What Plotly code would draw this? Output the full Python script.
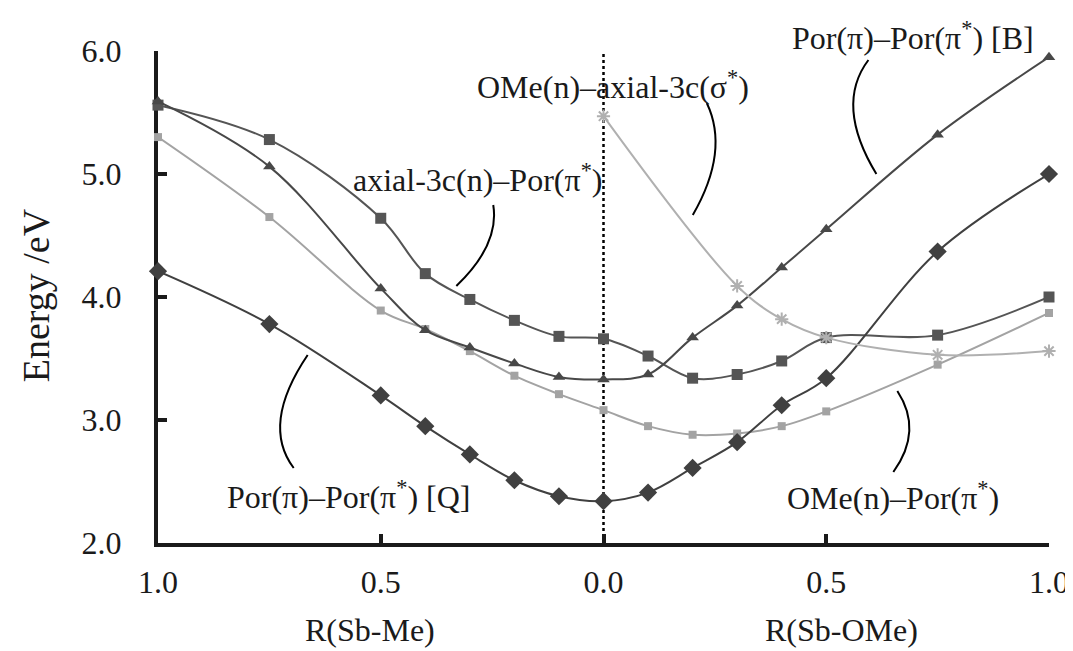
import plotly.graph_objects as go

# ---------------- data ----------------
x_pos = [-1.0, -0.75, -0.5, -0.4, -0.3, -0.2, -0.1, 0.0, 0.1, 0.2, 0.3, 0.4, 0.5, 0.75, 1.0]
q_band = [4.21, 3.78, 3.20, 2.95, 2.72, 2.51, 2.38, 2.34, 2.41, 2.61, 2.82, 3.12, 3.34, 4.37, 5.00]
b_band = [5.59, 5.06, 4.07, 3.73, 3.59, 3.46, 3.35, 3.33, 3.37, 3.67, 3.93, 4.24, 4.55, 5.32, 5.95]
axial_por = [5.56, 5.28, 4.64, 4.19, 3.98, 3.81, 3.68, 3.66, 3.52, 3.34, 3.37, 3.48, 3.67, 3.69, 4.00]
ome_por = [5.30, 4.65, 3.89, 3.74, 3.56, 3.36, 3.21, 3.08, 2.95, 2.88, 2.89, 2.95, 3.07, 3.45, 3.87]
sigma_x = [0.0, 0.3, 0.4, 0.5, 0.75, 1.0]
ome_axial = [5.47, 4.09, 3.82, 3.67, 3.53, 3.56]

x_tickvals = [-1.0, -0.5, 0.0, 0.5, 1.0]
x_ticktext = ["1.0", "0.5", "0.0", "0.5", "1.0"]
y_tickvals = [2, 3, 4, 5, 6]

# ---------------- layout helpers ----------------
W, H = 1073, 651
L, R, T, B = 150, 30, 43, 116
PW, PH = W - L - R, H - T - B
FONT = "Liberation Serif, Times New Roman, serif"
TXT = "#1a1a1a"


def px(x, y):
    return (x - L) / PW, (T + PH - y) / PH


def curve(p0, c, p1):
    a, b, d = px(*p0), px(*c), px(*p1)
    return f"M{a[0]},{a[1]} Q{b[0]},{b[1]} {d[0]},{d[1]}"


fig = go.Figure()

common = dict(mode="lines+markers", line_shape="spline", cliponaxis=False, showlegend=False)

fig.add_trace(go.Scatter(x=x_pos, y=ome_por, name="OMe(n)-Por(pi*)",
                         line=dict(color="#a3a3a3", width=2, smoothing=1.0),
                         marker=dict(symbol="square", size=8, color="#a3a3a3"), **common))
fig.add_trace(go.Scatter(x=x_pos, y=axial_por, name="axial-3c(n)-Por(pi*)",
                         line=dict(color="#555555", width=2, smoothing=1.0),
                         marker=dict(symbol="square", size=11, color="#555555"), **common))
fig.add_trace(go.Scatter(x=x_pos, y=b_band, name="Por(pi)-Por(pi*) [B]",
                         line=dict(color="#484848", width=2, smoothing=1.0),
                         marker=dict(symbol="triangle-up", size=11, color="#484848"), **common))
fig.add_trace(go.Scatter(x=x_pos, y=q_band, name="Por(pi)-Por(pi*) [Q]",
                         line=dict(color="#404040", width=2, smoothing=1.0),
                         marker=dict(symbol="diamond", size=14, color="#404040"), **common))
fig.add_trace(go.Scatter(x=sigma_x, y=ome_axial, name="OMe(n)-axial-3c(sigma*)",
                         line=dict(color="#b0b0b0", width=2, smoothing=1.0),
                         marker=dict(symbol="asterisk-open", size=11,
                                     line=dict(color="#a8a8a8", width=2)), **common))

# dotted centre line
fig.add_shape(type="line", xref="x", yref="y", x0=0, x1=0, y0=2, y1=6,
              line=dict(color="black", width=2.5, dash="dot"), layer="below")

# leader curves
leaders = [
    ((486, 197), (492.5, 236.5), (449, 278)),
    ((700, 95), (723, 143), (686, 207)),
    ((862, 52), (828, 97), (870, 166)),
    ((300, 347), (253, 416.5), (286, 460)),
    ((891, 383), (917, 422.5), (887, 464)),
]
for p0, c, p1 in leaders:
    fig.add_shape(type="path", xref="paper", yref="paper", path=curve(p0, c, p1),
                  line=dict(color="black", width=2))

labels = [
    ("axial-3c(n)\u2013Por(\u03c0<sup>*</sup>)", 470, 170),
    ("OMe(n)\u2013axial-3c(\u03c3<sup>*</sup>)", 606, 77),
    ("Por(\u03c0)\u2013Por(\u03c0<sup>*</sup>) [B]", 907, 28),
    ("Por(\u03c0)\u2013Por(\u03c0<sup>*</sup>) [Q]", 341, 487),
    ("OMe(n)\u2013Por(\u03c0<sup>*</sup>)", 887, 488),
]
for text, x, y in labels:
    xp, yp = px(x, y)
    fig.add_annotation(text=text, x=xp, y=yp, xref="paper", yref="paper",
                       xanchor="center", yanchor="middle", showarrow=False,
                       font=dict(family=FONT, size=32, color=TXT))

# axis titles as annotations
for text, x, y, ang, size in [
    ("Energy /eV", 28, 287, -90, 38),
    ("R(Sb-Me)", 362, 622, 0, 32),
    ("R(Sb-OMe)", 835, 622, 0, 32),
]:
    xp, yp = px(x, y)
    fig.add_annotation(text=text, x=xp, y=yp, xref="paper", yref="paper",
                       xanchor="center", yanchor="middle", showarrow=False, textangle=ang,
                       font=dict(family=FONT, size=size, color=TXT))

axis_common = dict(showgrid=False, zeroline=False, showline=True, linewidth=4,
                   linecolor="#1a1a1a", ticks="inside", ticklen=9, tickwidth=4,
                   tickcolor="#1a1a1a", layer="below traces",
                   tickfont=dict(family=FONT, size=32, color=TXT))

fig.update_layout(
    width=W, height=H,
    margin=dict(l=L, r=R, t=T, b=B, pad=0),
    paper_bgcolor="white", plot_bgcolor="white",
    xaxis=dict(range=[-1, 1], tickvals=x_tickvals, ticktext=x_ticktext,
               ticklabelstandoff=8, **axis_common),
    yaxis=dict(range=[2, 6], tickvals=y_tickvals, tickformat=".1f",
               ticklabelstandoff=26, **axis_common),
)

fig.write_html("out.html")
